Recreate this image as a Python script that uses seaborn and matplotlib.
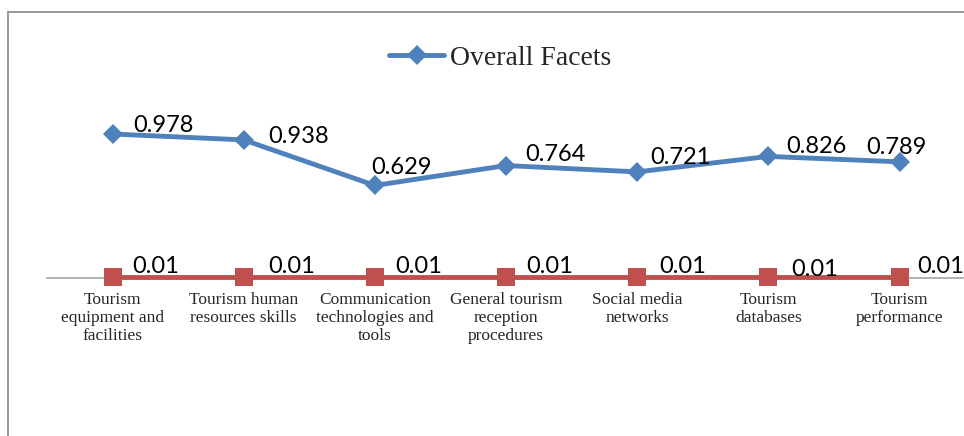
import numpy as np
import pandas as pd
import matplotlib.pyplot as plt
import seaborn as sns
from matplotlib.lines import Line2D

# chart data
categories = ["Tourism\nequipment and\nfacilities",
              "Tourism human\nresources skills",
              "Communication\ntechnologies and\ntools",
              "General tourism\nreception\nprocedures",
              "Social media\nnetworks",
              "Tourism\ndatabases",
              "Tourism\nperformance"]
overall = [0.978, 0.938, 0.629, 0.764, 0.721, 0.826, 0.789]
signif = [0.01, 0.01, 0.01, 0.01, 0.01, 0.01, 0.01]

# label offsets (pixels) as placed in the original chart
blue_dx = [21, 25, -4, 19, 13, 18, -33]
blue_dy = [2, -3, 11, 5, 8, 3, 8]
red_dx = [20, 25, 20, 20, 22, 23, 18]
red_dy = [4, 4, 4, 4, 4, 1, 4]

blue = "#4F81BD"
red = "#C0504D"

sns.set_theme(style="white")
plt.rcParams['font.family'] = ['Liberation Serif', 'DejaVu Sans']

df = pd.DataFrame({"pos": np.arange(len(categories)), "overall": overall, "signif": signif})

fig = plt.figure(figsize=(9.64, 4.36), dpi=100)
ax = fig.add_axes([0.0487, 0.362, 0.9525, 0.4057])

sns.lineplot(data=df, x="pos", y="signif", ax=ax, color=red, lw=3.5,
             marker="s", markersize=13.5, markeredgewidth=0, label="_nolegend_")
sns.lineplot(data=df, x="pos", y="overall", ax=ax, color=blue, lw=3.5,
             marker="D", markersize=10.5, markeredgewidth=0, label="Overall Facets")
for ln in ax.lines:
    ln.set_clip_on(False)

ax.set_xlim(-0.5, 6.5)
ax.set_ylim(0, 1.2)
ax.set_xticks(df["pos"])
ax.set_xticklabels(categories, fontsize=12.5, linespacing=1.15)
ax.tick_params(axis="x", length=0, pad=10)
ax.set_yticks([])
ax.set_xlabel("")
ax.set_ylabel("")
for s in ["top", "left", "right"]:
    ax.spines[s].set_visible(False)
ax.spines["bottom"].set_color("#a6a6a6")
ax.spines["bottom"].set_linewidth(1.2)
ax.spines["bottom"].set_zorder(0)

# data labels
for i, v in enumerate(overall):
    ax.annotate(f"{v:.3f}", (i, v), xytext=(blue_dx[i], blue_dy[i]), textcoords="offset pixels",
                ha="left", va="baseline", fontsize=17, family="Lato", color="black")
for i, v in enumerate(signif):
    ax.annotate(f"{v:.2f}", (i, v), xytext=(red_dx[i], red_dy[i]), textcoords="offset pixels",
                ha="left", va="baseline", fontsize=17, family="Lato", color="black")

ax.legend(loc="center", bbox_to_anchor=(500 / 964, 1 - 58 / 436), bbox_transform=fig.transFigure,
          frameon=False, prop={"family": "Liberation Serif", "size": 20},
          handlelength=2.0, handletextpad=0.2)

# outer frame of the chart area
fig.add_artist(Line2D([8 / 964, 8 / 964], [0, 1 - 12 / 436], transform=fig.transFigure,
                      color="#888888", lw=1.2))
fig.add_artist(Line2D([8 / 964, 1], [1 - 12 / 436, 1 - 12 / 436], transform=fig.transFigure,
                      color="#888888", lw=1.2))

fig.savefig("out.png", dpi=100)
